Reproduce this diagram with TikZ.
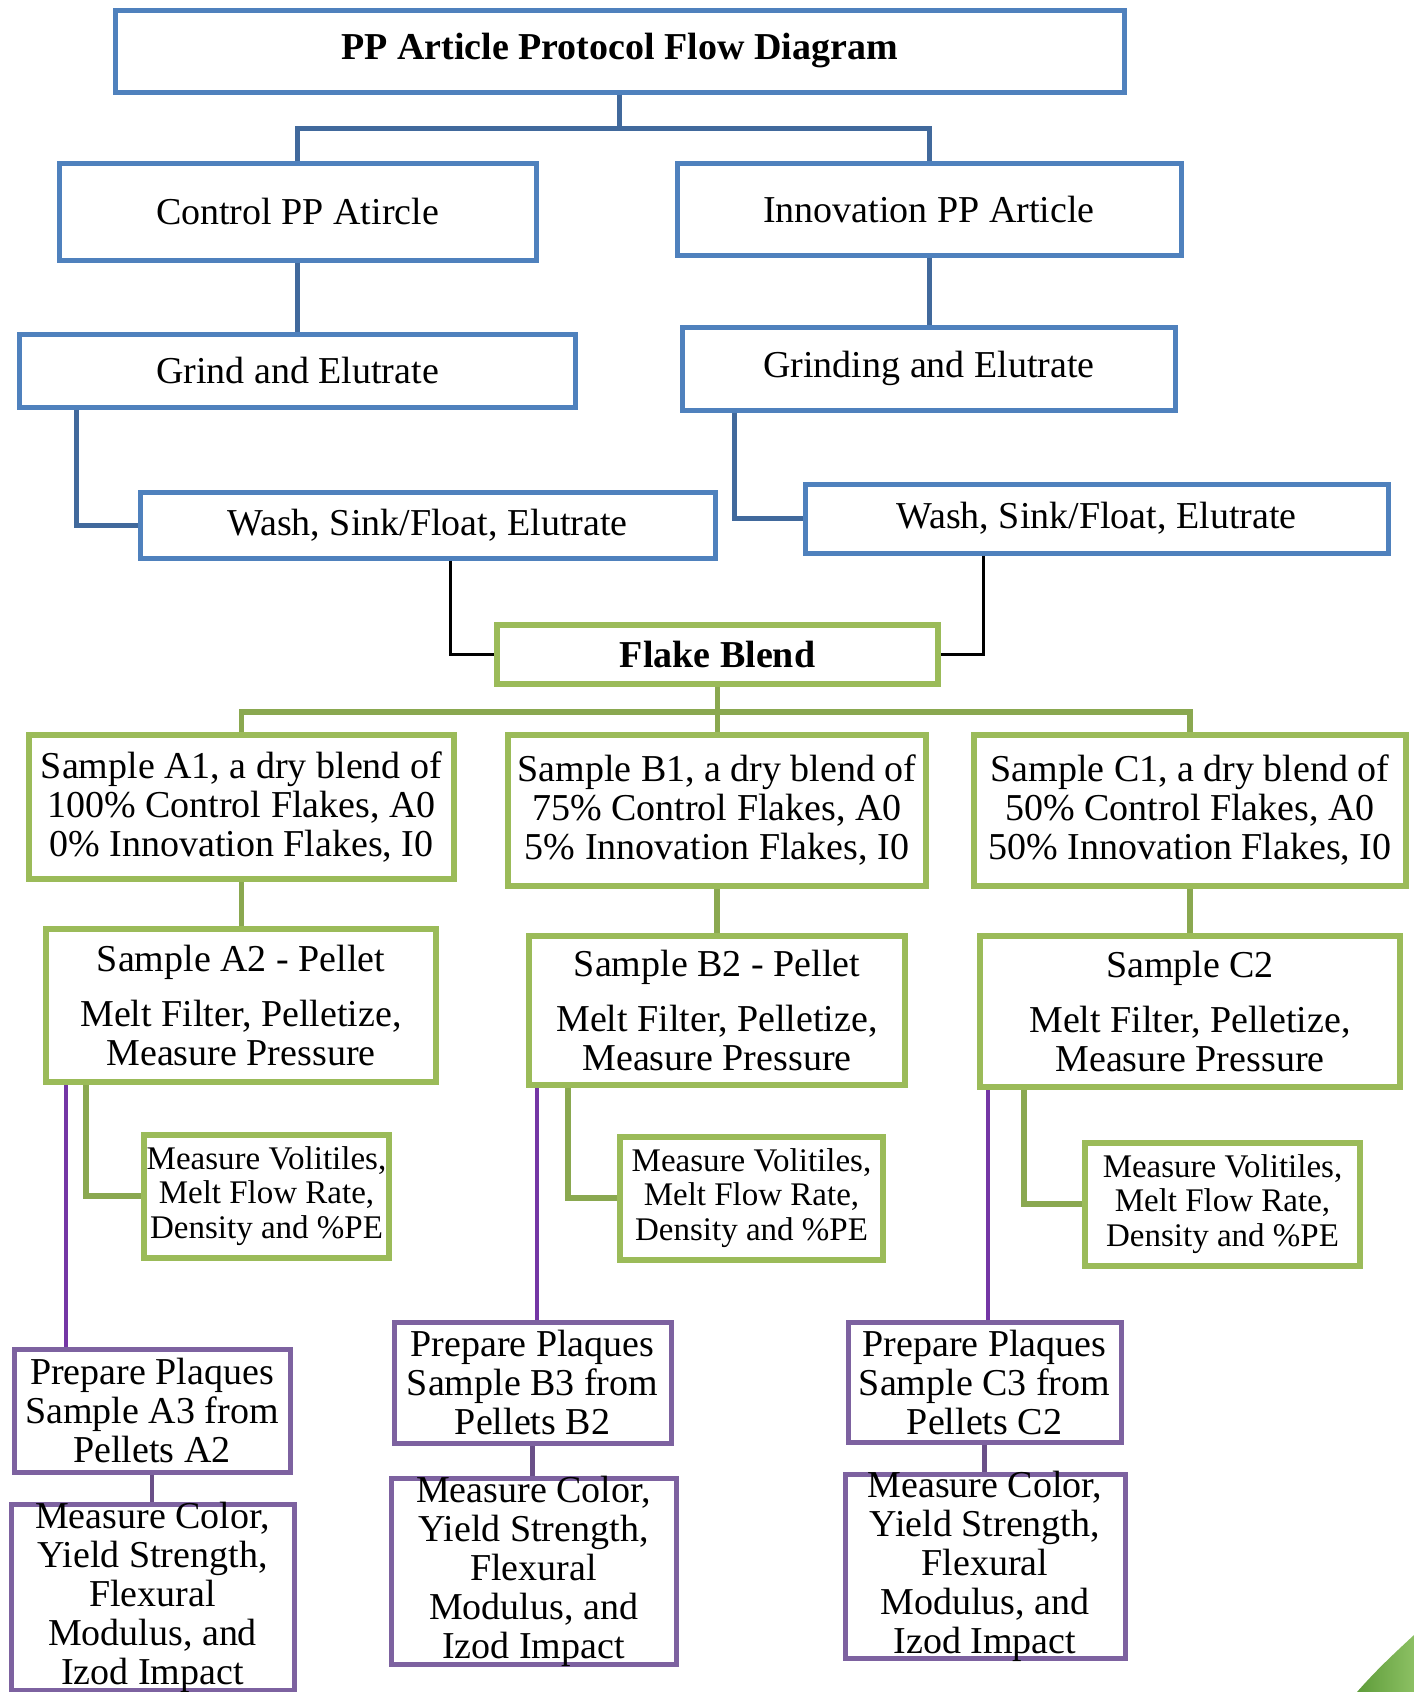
\documentclass[tikz,border=0pt]{standalone}
\usepackage{fontspec}
\setmainfont{Liberation Serif}
\definecolor{boxblue}{HTML}{4F81BD}
\definecolor{connblue}{HTML}{41699C}
\definecolor{boxgreen}{HTML}{9BBB59}
\definecolor{conngreen}{HTML}{8AA850}
\definecolor{boxpurple}{HTML}{7D62A0}
\definecolor{linepurple}{HTML}{7436A5}
\definecolor{connpurple}{HTML}{6A5088}
\definecolor{tridark}{HTML}{5E9C3A}
\definecolor{trilight}{HTML}{8CC063}
\tikzset{
  x=1pt, y=-1pt,
  base/.style={rectangle, align=center, inner sep=2pt, fill=white, font=\fontsize{38}{39}\selectfont},
  bbox/.style={base, draw=boxblue, line width=5pt},
  gbox/.style={base, draw=boxgreen, line width=6pt},
  sgbox/.style={gbox, font=\fontsize{33}{34.5}\selectfont},
  pbox/.style={base, draw=boxpurple, line width=5pt},
  ptext/.style={align=center, inner sep=0pt, font=\fontsize{38}{39}\selectfont},
  bconn/.style={draw=connblue, line width=5pt},
  gconn/.style={draw=conngreen, line width=5.5pt},
  kconn/.style={draw=black, line width=3pt},
  lpconn/.style={draw=linepurple, line width=4pt},
  pconn/.style={draw=connpurple, line width=4.5pt},
}
\begin{document}
\begin{tikzpicture}
\useasboundingbox (0,0) rectangle (1414,1692);

% ---- blue part ----
\node[bbox, font=\bfseries\fontsize{38}{39}\selectfont, minimum width=1009, minimum height=82] (ttl) at (619.5,51) {PP Article Protocol Flow Diagram};
\node[bbox, minimum width=477, minimum height=97] (ctrl) at (297.5,211.5) {Control PP Atircle};
\node[bbox, minimum width=504, minimum height=92] (innov) at (929,209) {Innovation PP Article};
\node[bbox, minimum width=556, minimum height=73] (grind) at (297.5,370.5) {Grind and Elutrate};
\node[bbox, minimum width=493, minimum height=83] (grinding) at (929,368.5) {Grinding and Elutrate};
\node[bbox, minimum width=575, minimum height=66] (washL) at (427.5,525) {Wash, Sink/Float, Elutrate};
\node[bbox, minimum width=583, minimum height=69] (washR) at (1096.5,518.5) {Wash, Sink/Float, Elutrate};

\draw[bconn] (ttl.south) -- ++(0,34) -| (ctrl.north);
\draw[bconn] (ttl.south) -- ++(0,34) -| (innov.north);
\draw[bconn] (ctrl.south) -- (grind.north);
\draw[bconn] (innov.south) -- (grinding.north);
\draw[bconn] ([xshift=59.5pt]grind.south west) |- (washL.west);
\draw[bconn] ([xshift=54pt]grinding.south west) |- (washR.west);

% ---- green part ----
\node[gbox, font=\bfseries\fontsize{38}{39}\selectfont, minimum width=441, minimum height=59] (flake) at (717.5,654.5) {Flake Blend};
\draw[kconn] ([xshift=313pt]washL.south west) |- (flake.west);
\draw[kconn] ([xshift=181pt]washR.south west) |- (flake.east);

\node[gbox, minimum width=425, minimum height=144] (A1) at (241.5,807) {Sample A1, a dry blend of\\100\% Control Flakes, A0\\0\% Innovation Flakes, I0};
\node[gbox, minimum width=418, minimum height=151] (B1) at (717,810.5) {Sample B1, a dry blend of\\75\% Control Flakes, A0\\5\% Innovation Flakes, I0};
\node[gbox, minimum width=432, minimum height=151] (C1) at (1190,810.5) {Sample C1, a dry blend of\\50\% Control Flakes, A0\\50\% Innovation Flakes, I0};

\draw[gconn] (flake.south) -- ++(0,25) -| (A1.north);
\draw[gconn] (flake.south) -- ++(0,25) -| (C1.north);
\draw[gconn] (flake.south) -- (flake.south |- B1.north);

\node[gbox, minimum width=390, minimum height=153] (A2) at (241,1005.5) {Sample A2 - Pellet\\[16pt]Melt Filter, Pelletize,\\Measure Pressure};
\node[gbox, minimum width=376, minimum height=149] (B2) at (717,1010.5) {Sample B2 - Pellet\\[16pt]Melt Filter, Pelletize,\\Measure Pressure};
\node[gbox, minimum width=420, minimum height=151] (C2) at (1190,1011.5) {Sample C2\\[16pt]Melt Filter, Pelletize,\\Measure Pressure};

\draw[gconn] (A1.south) -- (A1.south |- A2.north);
\draw[gconn] (B1.south) -- (B1.south |- B2.north);
\draw[gconn] (C1.south) -- (C1.south |- C2.north);

\node[sgbox, minimum width=245, minimum height=123] (mvA) at (266.5,1196) {Measure Volitiles,\\Melt Flow Rate,\\Density and \%PE};
\node[sgbox, minimum width=263, minimum height=123] (mvB) at (751.5,1198) {Measure Volitiles,\\Melt Flow Rate,\\Density and \%PE};
\node[sgbox, minimum width=275, minimum height=123] (mvC) at (1222.5,1204) {Measure Volitiles,\\Melt Flow Rate,\\Density and \%PE};

\draw[gconn] ([xshift=43pt]A2.south west) |- (mvA.west);
\draw[gconn] ([xshift=42pt]B2.south west) |- (mvB.west);
\draw[gconn] ([xshift=47pt]C2.south west) |- (mvC.west);

% ---- purple part ----
\node[pbox, minimum width=276, minimum height=123] (prepA) at (152,1410.5) {Prepare Plaques\\Sample A3 from\\Pellets A2};
\node[pbox, minimum width=277, minimum height=121] (prepB) at (532.5,1382.5) {Prepare Plaques\\Sample B3 from\\Pellets B2};
\node[pbox, minimum width=273, minimum height=120] (prepC) at (984.5,1382) {Prepare Plaques\\Sample C3 from\\Pellets C2};

\draw[lpconn] ([xshift=22.5pt]A2.south west) coordinate (pa) -- (pa |- prepA.north);
\draw[lpconn] ([xshift=11pt]B2.south west) coordinate (pb) -- (pb |- prepB.north);
\draw[lpconn] ([xshift=11pt]C2.south west) coordinate (pc) -- (pc |- prepC.north);

\node[pbox, minimum width=283, minimum height=186] (measA) at (152.5,1597) {};
\node[pbox, minimum width=285, minimum height=186] (measB) at (533.5,1571) {};
\node[pbox, minimum width=280, minimum height=184] (measC) at (985,1566) {};
\node[ptext] (measAt) at (measA.center) {Measure Color,\\Yield Strength,\\Flexural\\Modulus, and\\Izod Impact};
\node[ptext] (measBt) at (measB.center) {Measure Color,\\Yield Strength,\\Flexural\\Modulus, and\\Izod Impact};
\node[ptext] (measCt) at (measC.center) {Measure Color,\\Yield Strength,\\Flexural\\Modulus, and\\Izod Impact};

\draw[pconn] (prepA.south) -- (prepA.south |- measA.north);
\draw[pconn] (prepB.south) -- (prepB.south |- measB.north);
\draw[pconn] (prepC.south) -- (prepC.south |- measC.north);

% ---- corner decoration ----
\shade[left color=tridark, right color=trilight] (1357,1692) .. controls (1378,1668) and (1398,1650) .. (1414,1635) -- (1414,1692) -- cycle;
\end{tikzpicture}
\end{document}
